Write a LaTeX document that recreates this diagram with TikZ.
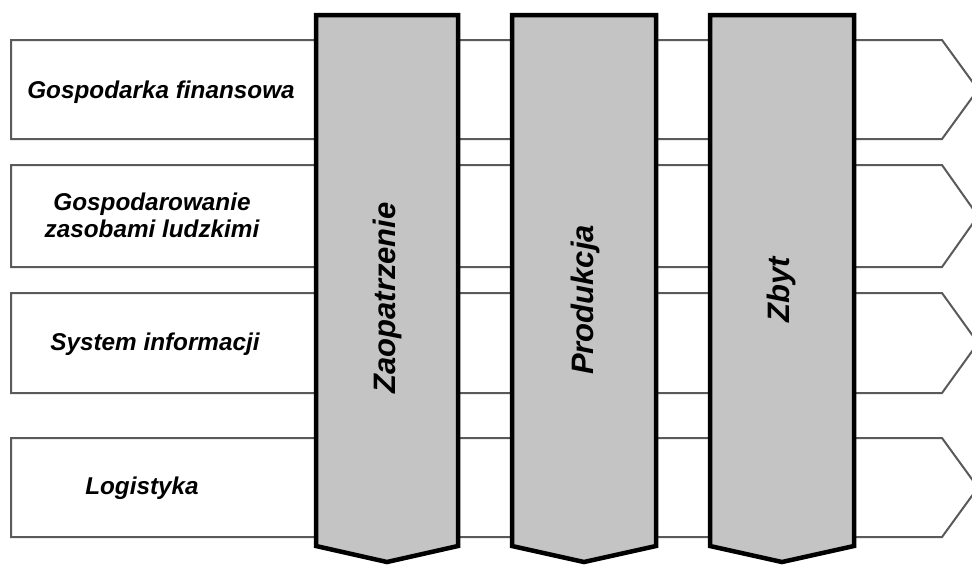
\documentclass[tikz,border=0pt]{standalone}
\usepackage{fontspec}
\setmainfont{Liberation Sans}
\definecolor{bandline}{HTML}{5A5A5A}
\definecolor{pillarfill}{HTML}{C4C4C4}
\begin{document}
\begin{tikzpicture}[x=1pt,y=-1pt,
  band/.style={draw=bandline, line width=2pt, fill=white, line join=miter},
  pillar/.style={draw=black, line width=4.5pt, fill=pillarfill, line join=miter},
  bandtext/.style={font=\fontsize{24.3}{27}\selectfont\bfseries\itshape, align=center, text=black, inner sep=0pt},
  pillartext/.style={font=\fontsize{31}{34}\selectfont\bfseries\itshape, rotate=90, inner sep=0pt, anchor=base}]
\useasboundingbox (0,0) rectangle (972,566);

% horizontal support functions (right-pointing bands)
\foreach \t/\b [count=\i] in {40/139,165/267,293/393,438/537}{
  \draw[band] (11,\t) -- (942,\t) -- (978,{(\t+\b)/2}) -- (942,\b) -- (11,\b) -- cycle;
}

% vertical core functions (downward-pointing pillars)
\draw[pillar] (316,15) -- (458,15) -- (458,546) -- (387,562) -- (316,546) -- cycle;
\draw[pillar] (512,15) -- (656,15) -- (656,546) -- (584,562) -- (512,546) -- cycle;
\draw[pillar] (710,15) -- (854,15) -- (854,546) -- (782,562) -- (710,546) -- cycle;

% band labels
\node[bandtext, anchor=base] (fin) at (161,98) {Gospodarka finansowa};
\node[bandtext] (hr) at (152,215) {Gospodarowanie\\zasobami ludzkimi};
\node[bandtext, anchor=base] (info) at (155,350) {System informacji};
\node[bandtext, anchor=base] (log) at (142,494) {Logistyka};

% pillar labels
\node[pillartext] (zaop) at (395,298) {Zaopatrzenie};
\node[pillartext] (prod) at (593,300) {Produkcja};
\node[pillartext] (zbyt) at (789,290) {Zbyt};
\end{tikzpicture}
\end{document}
